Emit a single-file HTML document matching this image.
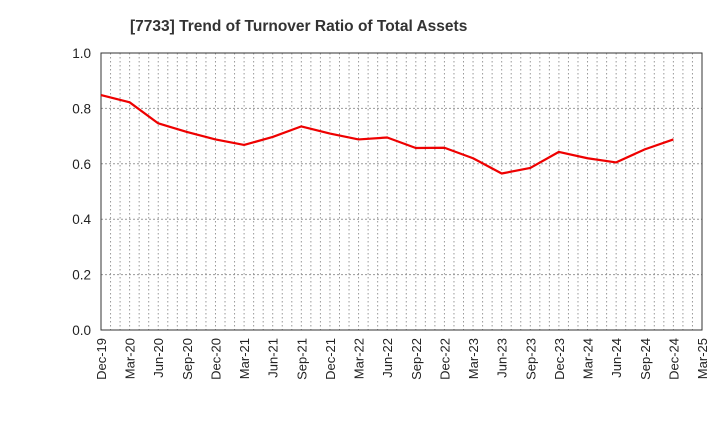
<!DOCTYPE html>
<html><head><meta charset="utf-8">
<style>
body{margin:0;background:#fff;}
svg{display:block;font-family:"Liberation Sans",sans-serif;}
</style></head>
<body>
<svg id="chart" width="720" height="440">
<text x="130" y="31" text-anchor="start" font-size="15.5" font-weight="bold" fill="#333">[7733]  Trend of Turnover Ratio of Total Assets</text>
<g id="grid"></g>
<g id="axes"></g>
<g id="series"></g>
</svg>
<script>
const categories=["Dec-19","Mar-20","Jun-20","Sep-20","Dec-20","Mar-21","Jun-21","Sep-21","Dec-21","Mar-22","Jun-22","Sep-22","Dec-22","Mar-23","Jun-23","Sep-23","Dec-23","Mar-24","Jun-24","Sep-24","Dec-24","Mar-25"];
const values=[0.848,0.822,0.746,0.715,0.688,0.668,0.697,0.735,0.709,0.688,0.695,0.657,0.658,0.620,0.565,0.585,0.643,0.620,0.605,0.652,0.688];
const yTicks=[0,0.2,0.4,0.6,0.8,1.0];
const yTickLabels=["0.0","0.2","0.4","0.6","0.8","1.0"];

const L=101,R=702,T=53,B=330;
const NS="http://www.w3.org/2000/svg";
const step=(R-L)/(categories.length-1);
const x=i=>L+i*step;
const y=v=>B-(v-0)/(1-0)*(B-T);
function mk(tag,attrs,parent){const e=document.createElementNS(NS,tag);for(const k in attrs)e.setAttribute(k,attrs[k]);parent.appendChild(e);return e;}
const grid=document.getElementById('grid'),axes=document.getElementById('axes'),series=document.getElementById('series');

for(let m=1;m<(categories.length-1)*3;m++){
  const xx=L+m*step/3;
  const l=mk('line',{x1:xx,x2:xx,y1:T,y2:B,stroke:'#999','stroke-dasharray':'1.5,2.5','stroke-width':1},grid);
  
  
}
yTicks.forEach((v,i)=>{
  if(v>0&&v<1){
    const l=mk('line',{x1:L,x2:R,y1:y(v),y2:y(v),stroke:'#999','stroke-dasharray':'2,2','stroke-width':1},grid);
    
    
  }
  const t=mk('text',{x:L-10,y:y(v)+5,'text-anchor':'end','font-size':13.5,fill:'#222'},axes);
  t.textContent=yTickLabels[i];
  
  
});
const frame=mk('rect',{x:L,y:T,width:R-L,height:B-T,fill:'none',stroke:'#333','stroke-width':1},axes);


categories.forEach((c,i)=>{
  const t=mk('text',{transform:`translate(${x(i)+5},${B+8}) rotate(-90)`,'text-anchor':'end','font-size':13,fill:'#222'},axes);
  t.textContent=c;
  
  
});
const pts=values.map((v,i)=>x(i)+','+y(v)).join(' ');
const pl=mk('polyline',{points:pts,fill:'none',stroke:'#ee0000','stroke-width':2.2,'stroke-linejoin':'round'},series);


</script>
</body></html>
